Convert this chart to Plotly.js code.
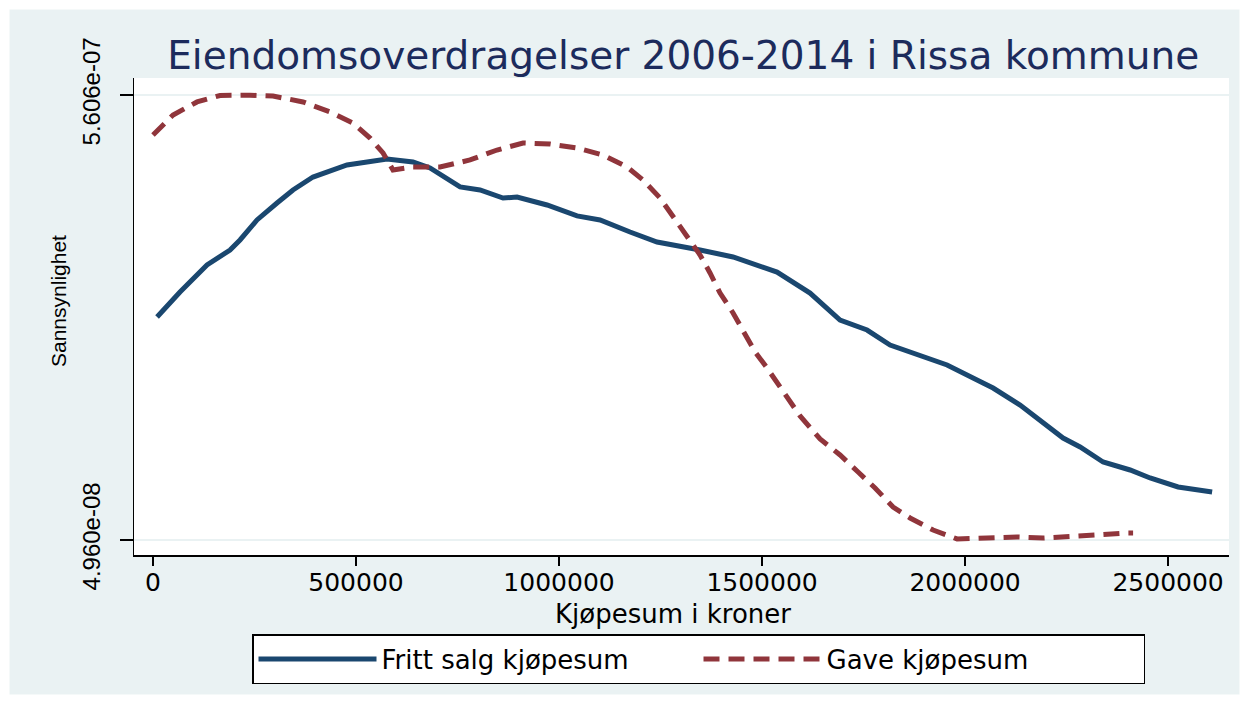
<!DOCTYPE html>
<html>
<head>
<meta charset="utf-8">
<script src="https://cdn.plot.ly/plotly-3.0.1.min.js"></script>
<style>html,body{margin:0;padding:0;background:#fff;}#chart{width:1249px;height:704px;}</style>
</head>
<body>
<div id="chart"></div>
<script>
// Fritt salg kjøpesum (density)
var frittX = [10000, 66500, 133000, 189700, 214300, 256200, 305400, 344800, 394100, 477800, 576400, 640400, 682300, 756200, 805400, 862100, 896600, 970400, 1044300, 1101000, 1174900, 1241400, 1347300, 1428600, 1536900, 1618200, 1692100, 1758600, 1815300, 1889200, 1955700, 2044300, 2069000, 2135500, 2184700, 2241400, 2283300, 2339900, 2406400, 2455700, 2524600, 2608400];
var frittY = [3.057e-7, 3.344e-7, 3.654e-7, 3.826e-7, 3.941e-7, 4.171e-7, 4.366e-7, 4.515e-7, 4.664e-7, 4.802e-7, 4.871e-7, 4.837e-7, 4.768e-7, 4.550e-7, 4.515e-7, 4.423e-7, 4.435e-7, 4.343e-7, 4.217e-7, 4.171e-7, 4.033e-7, 3.918e-7, 3.826e-7, 3.746e-7, 3.573e-7, 3.332e-7, 3.022e-7, 2.907e-7, 2.735e-7, 2.620e-7, 2.506e-7, 2.299e-7, 2.241e-7, 2.046e-7, 1.874e-7, 1.667e-7, 1.564e-7, 1.392e-7, 1.300e-7, 1.208e-7, 1.105e-7, 1.047e-7];

// Gave kjøpesum (density)
var gaveX = [0, 49300, 108400, 165000, 238900, 295600, 369500, 436000, 492600, 534500, 566500, 591100, 640400, 706900, 780800, 847300, 911300, 977800, 1044300, 1108400, 1167500, 1206900, 1248800, 1280800, 1315300, 1347300, 1371900, 1396600, 1428600, 1453200, 1482800, 1512300, 1549300, 1593600, 1642900, 1692100, 1736500, 1778300, 1822700, 1864500, 1921200, 1980300, 2054200, 2128100, 2192100, 2258600, 2325100, 2399000, 2413800];
var gaveY = [5.147e-7, 5.376e-7, 5.526e-7, 5.600e-7, 5.604e-7, 5.594e-7, 5.526e-7, 5.411e-7, 5.284e-7, 5.112e-7, 4.940e-7, 4.745e-7, 4.779e-7, 4.779e-7, 4.860e-7, 4.974e-7, 5.055e-7, 5.043e-7, 4.997e-7, 4.917e-7, 4.779e-7, 4.630e-7, 4.423e-7, 4.205e-7, 3.975e-7, 3.769e-7, 3.562e-7, 3.332e-7, 3.103e-7, 2.907e-7, 2.655e-7, 2.471e-7, 2.219e-7, 1.920e-7, 1.656e-7, 1.472e-7, 1.277e-7, 1.093e-7, 0.875e-7, 0.749e-7, 0.611e-7, 0.508e-7, 0.519e-7, 0.531e-7, 0.519e-7, 0.531e-7, 0.554e-7, 0.576e-7, 0.576e-7];

var xTickVals = [0, 500000, 1000000, 1500000, 2000000, 2500000];
var yTickVals = [4.960e-8, 5.606e-7];
var yTickText = ["4.960e-08", "5.606e-07"];

var seriesNames = ["Fritt salg kjøpesum", "Gave kjøpesum"];
var xTitle = "Kjøpesum i kroner";
var yTitle = "Sannsynlighet";

var hFont = "DejaVu Sans, Liberation Sans, Arial, sans-serif";
var vFont = "Liberation Sans, Arial, sans-serif";

var traces = [
  {x: frittX, y: frittY, type: "scatter", mode: "lines", name: seriesNames[0],
   line: {color: "#1a476f", width: 5}},
  {x: gaveX, y: gaveY, type: "scatter", mode: "lines", name: seriesNames[1],
   line: {color: "#90353b", width: 5, dash: "16px,9px"}}
];

var layout = {
  width: 1249, height: 704,
  margin: {l: 134, r: 20, t: 78, b: 149, autoexpand: false},
  paper_bgcolor: "#eaf2f3",
  plot_bgcolor: "#ffffff",
  showlegend: true,
  title: {text: "Eiendomsoverdragelser 2006-2014 i Rissa kommune",
          font: {family: hFont, size: 39, color: "#1c2b5c"},
          x: 0.547, xanchor: "center", xref: "container",
          y: 1 - 55/704, yanchor: "middle", yref: "container"},
  xaxis: {
    range: [-46800, 2650000], tickvals: xTickVals, tickformat: "d",
    ticks: "outside", ticklen: 9, tickwidth: 1.5, tickcolor: "#000",
    showline: true, linecolor: "#000", linewidth: 1.5,
    showgrid: false, zeroline: false,
    tickfont: {family: hFont, size: 25, color: "#000"},
    ticklabelstandoff: -5,
    automargin: false
  },
  yaxis: {
    range: [3.238e-8, 5.801e-7], tickvals: yTickVals, ticktext: yTickText,
    tickangle: -90,
    ticks: "outside", ticklen: 13, tickwidth: 1.5, tickcolor: "#000",
    showline: true, linecolor: "#000", linewidth: 1.5,
    showgrid: true, gridcolor: "#eaf2f3", gridwidth: 2, zeroline: false,
    tickfont: {family: vFont, size: 24, color: "#000"},
    ticklabelstandoff: 10,
    automargin: false
  },
  annotations: [
    {text: xTitle, xref: "paper", yref: "paper", x: (673-134)/1095, y: (555-614)/477,
     xanchor: "center", yanchor: "middle", showarrow: false,
     font: {family: hFont, size: 26, color: "#000"}},
    {text: yTitle, xref: "paper", yref: "paper", x: (58-134)/1095, y: (555-301)/477,
     xanchor: "center", yanchor: "middle", showarrow: false, textangle: -90,
     font: {family: vFont, size: 21, color: "#000"}}
  ],
  legend: {
    orientation: "h", x: (252-134)/1095, xanchor: "left", y: (555-634)/477, yanchor: "top",
    bgcolor: "#ffffff", bordercolor: "#000", borderwidth: 1.5,
    font: {family: hFont, size: 26, color: "#000"},
    itemwidth: 118, entrywidth: 312, traceorder: "normal"
  },
  shapes: [
    {type: "rect", xref: "paper", yref: "paper",
     x0: -134/1095, x1: (1249-134)/1095, y0: (555-704)/477, y1: 555/477,
     line: {color: "#ffffff", width: 19}, fillcolor: "rgba(0,0,0,0)", layer: "above"}
  ]
};

Plotly.newPlot("chart", traces, layout, {displayModeBar: false, staticPlot: true});
</script>
</body>
</html>
